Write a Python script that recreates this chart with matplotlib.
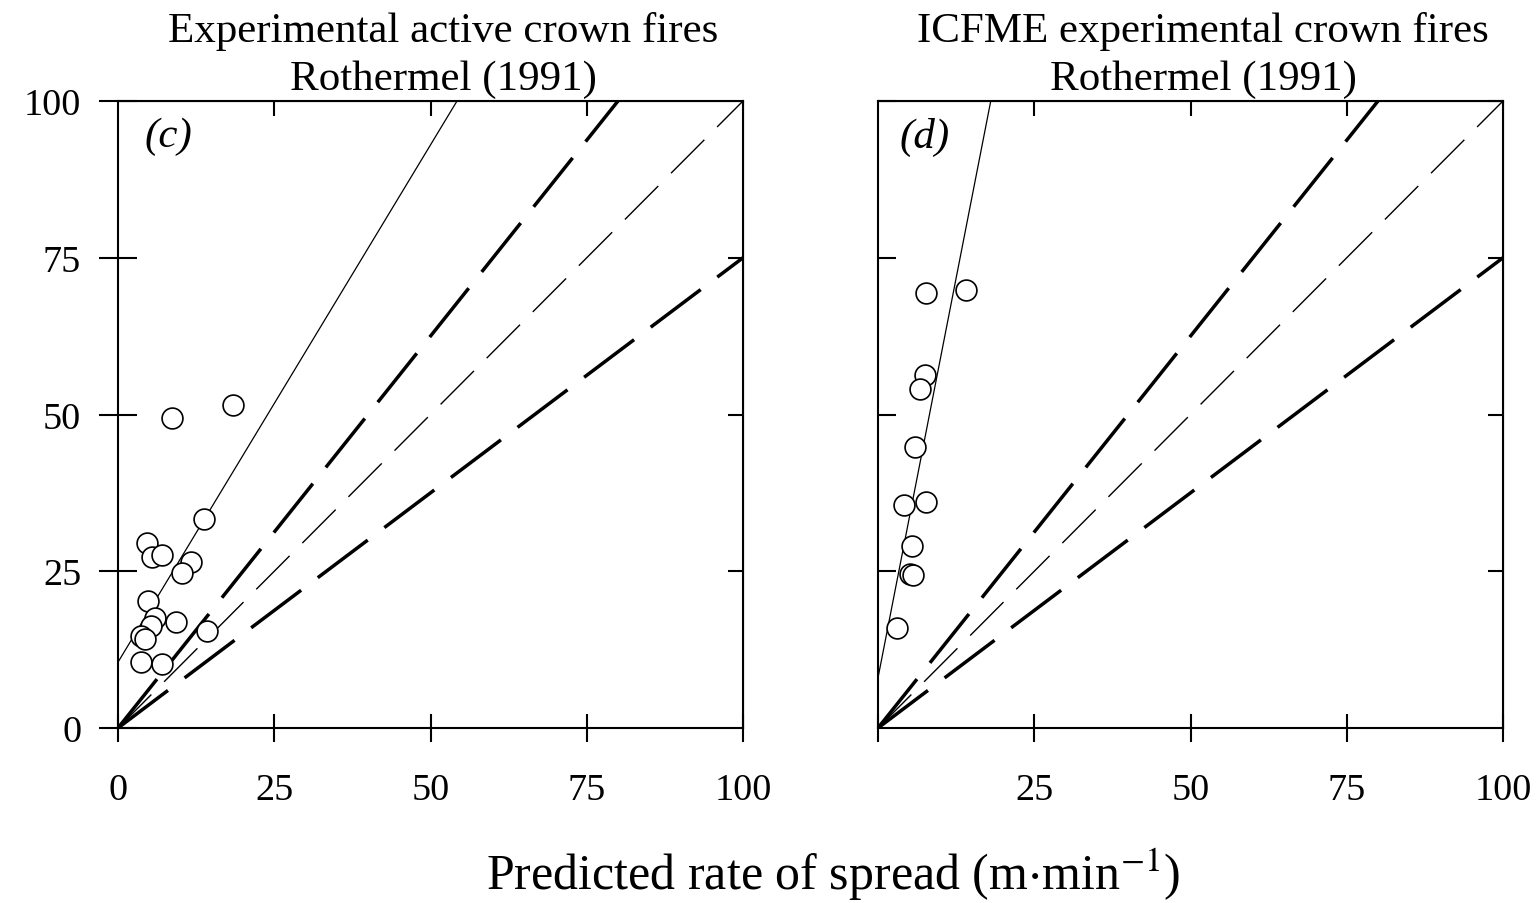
import numpy as np
import matplotlib.pyplot as plt

plt.rcParams['font.family'] = ['Liberation Serif', 'DejaVu Serif']
plt.rcParams['mathtext.fontset'] = 'stix'

# observed vs predicted spread rates (m/min)
c_pred = [8.6, 18.4, 13.8, 4.6, 5.5, 7.1, 11.7, 10.3, 4.8, 5.9, 9.3, 5.2, 3.7, 4.3, 14.2, 3.6, 7.1]
c_obs = [49.5, 51.5, 33.3, 29.5, 27.3, 27.6, 26.5, 24.8, 20.3, 17.5, 16.9, 16.3, 14.7, 14.2, 15.5, 10.6, 10.2]
d_pred = [7.7, 14.0, 7.5, 6.7, 5.9, 4.2, 7.7, 5.4, 5.1, 5.6, 3.1]
d_obs = [69.4, 69.9, 56.3, 54.0, 44.8, 35.5, 36.0, 29.1, 24.6, 24.4, 15.9]

# regression fits (intercept, slope)
c_fit = (10.5, 1.65)
d_fit = (8.0, 5.1)

# 1:1 line and +/-25 % error bounds
bound_slopes = [1.25, 0.75]
ticks = [0, 25, 50, 75, 100]

fig = plt.figure(figsize=(15.39, 9.04), dpi=100)
ax1 = fig.add_axes([118/1539, 1-729/904, 625/1539, 627/904])
ax2 = fig.add_axes([878/1539, 1-729/904, 625/1539, 627/904])

xx = np.array([0, 100])
heavy = dict(color='black', lw=2.5, dashes=(18, 6))
thin = dict(color='black', lw=1.0, dashes=(34, 13))

for ax, px, ob, fit, lab, t1 in [
        (ax1, c_pred, c_obs, c_fit, '(c)', 'Experimental active crown fires'),
        (ax2, d_pred, d_obs, d_fit, '(d)', 'ICFME experimental crown fires')]:
    ax.plot(xx, fit[0] + fit[1]*xx, color='black', lw=0.9)
    for s in bound_slopes:
        ax.plot(xx, s*xx, **heavy)
    ax.plot(xx, xx, **thin)
    ax.plot(px, ob, 'o', mfc='white', mec='black', ms=15, mew=1.2, zorder=5)
    ax.set_xlim(0, 100)
    ax.set_ylim(0, 100)
    for sp in ax.spines.values():
        sp.set_linewidth(1.5)
    ax.text(0.52, 1.0957, t1, transform=ax.transAxes, ha='center',
            va='baseline', fontsize=31)
    ax.text(0.52, 1.019, 'Rothermel (1991)', transform=ax.transAxes,
            ha='center', va='baseline', fontsize=31)
    ax.text(0.043 if ax is ax1 else 0.035, 0.975, lab, transform=ax.transAxes,
            ha='left', va='top', fontsize=31, style='italic')
    # inward ticks on the top and right frames
    top = ax.secondary_xaxis('top')
    top.set_xticks([25, 50, 75])
    top.tick_params(direction='in', length=11, width=1.5, labeltop=False)
    right = ax.secondary_yaxis('right')
    right.set_yticks([25, 50, 75, 100] if ax is ax2 else [25, 50, 75])
    right.tick_params(direction='in', length=11, width=1.5, labelright=False)

ax1.set_xticks(ticks)
ax1.set_yticks(ticks)
ax1.tick_params(axis='x', direction='inout', length=20, width=1.5, pad=22,
                labelsize=27.5)
ax1.tick_params(axis='y', direction='inout', length=27, width=1.5, pad=13,
                labelsize=27.5)

ax2.set_xticks(ticks)
ax2.set_xticklabels([''] + [str(t) for t in ticks[1:]])
ax2.set_yticks([25, 50, 75, 100])
ax2.tick_params(axis='x', direction='inout', length=20, width=1.5, pad=22,
                labelsize=27.5)
ax2.tick_params(axis='y', direction='in', length=13, width=1.5,
                labelleft=False)

fig.text(0.5415, 0.0155, r'Predicted rate of spread (m$\cdot$min$^{\mathrm{-1}}$)',
         ha='center', va='baseline', fontsize=36)

fig.savefig('out.png', dpi=100)
